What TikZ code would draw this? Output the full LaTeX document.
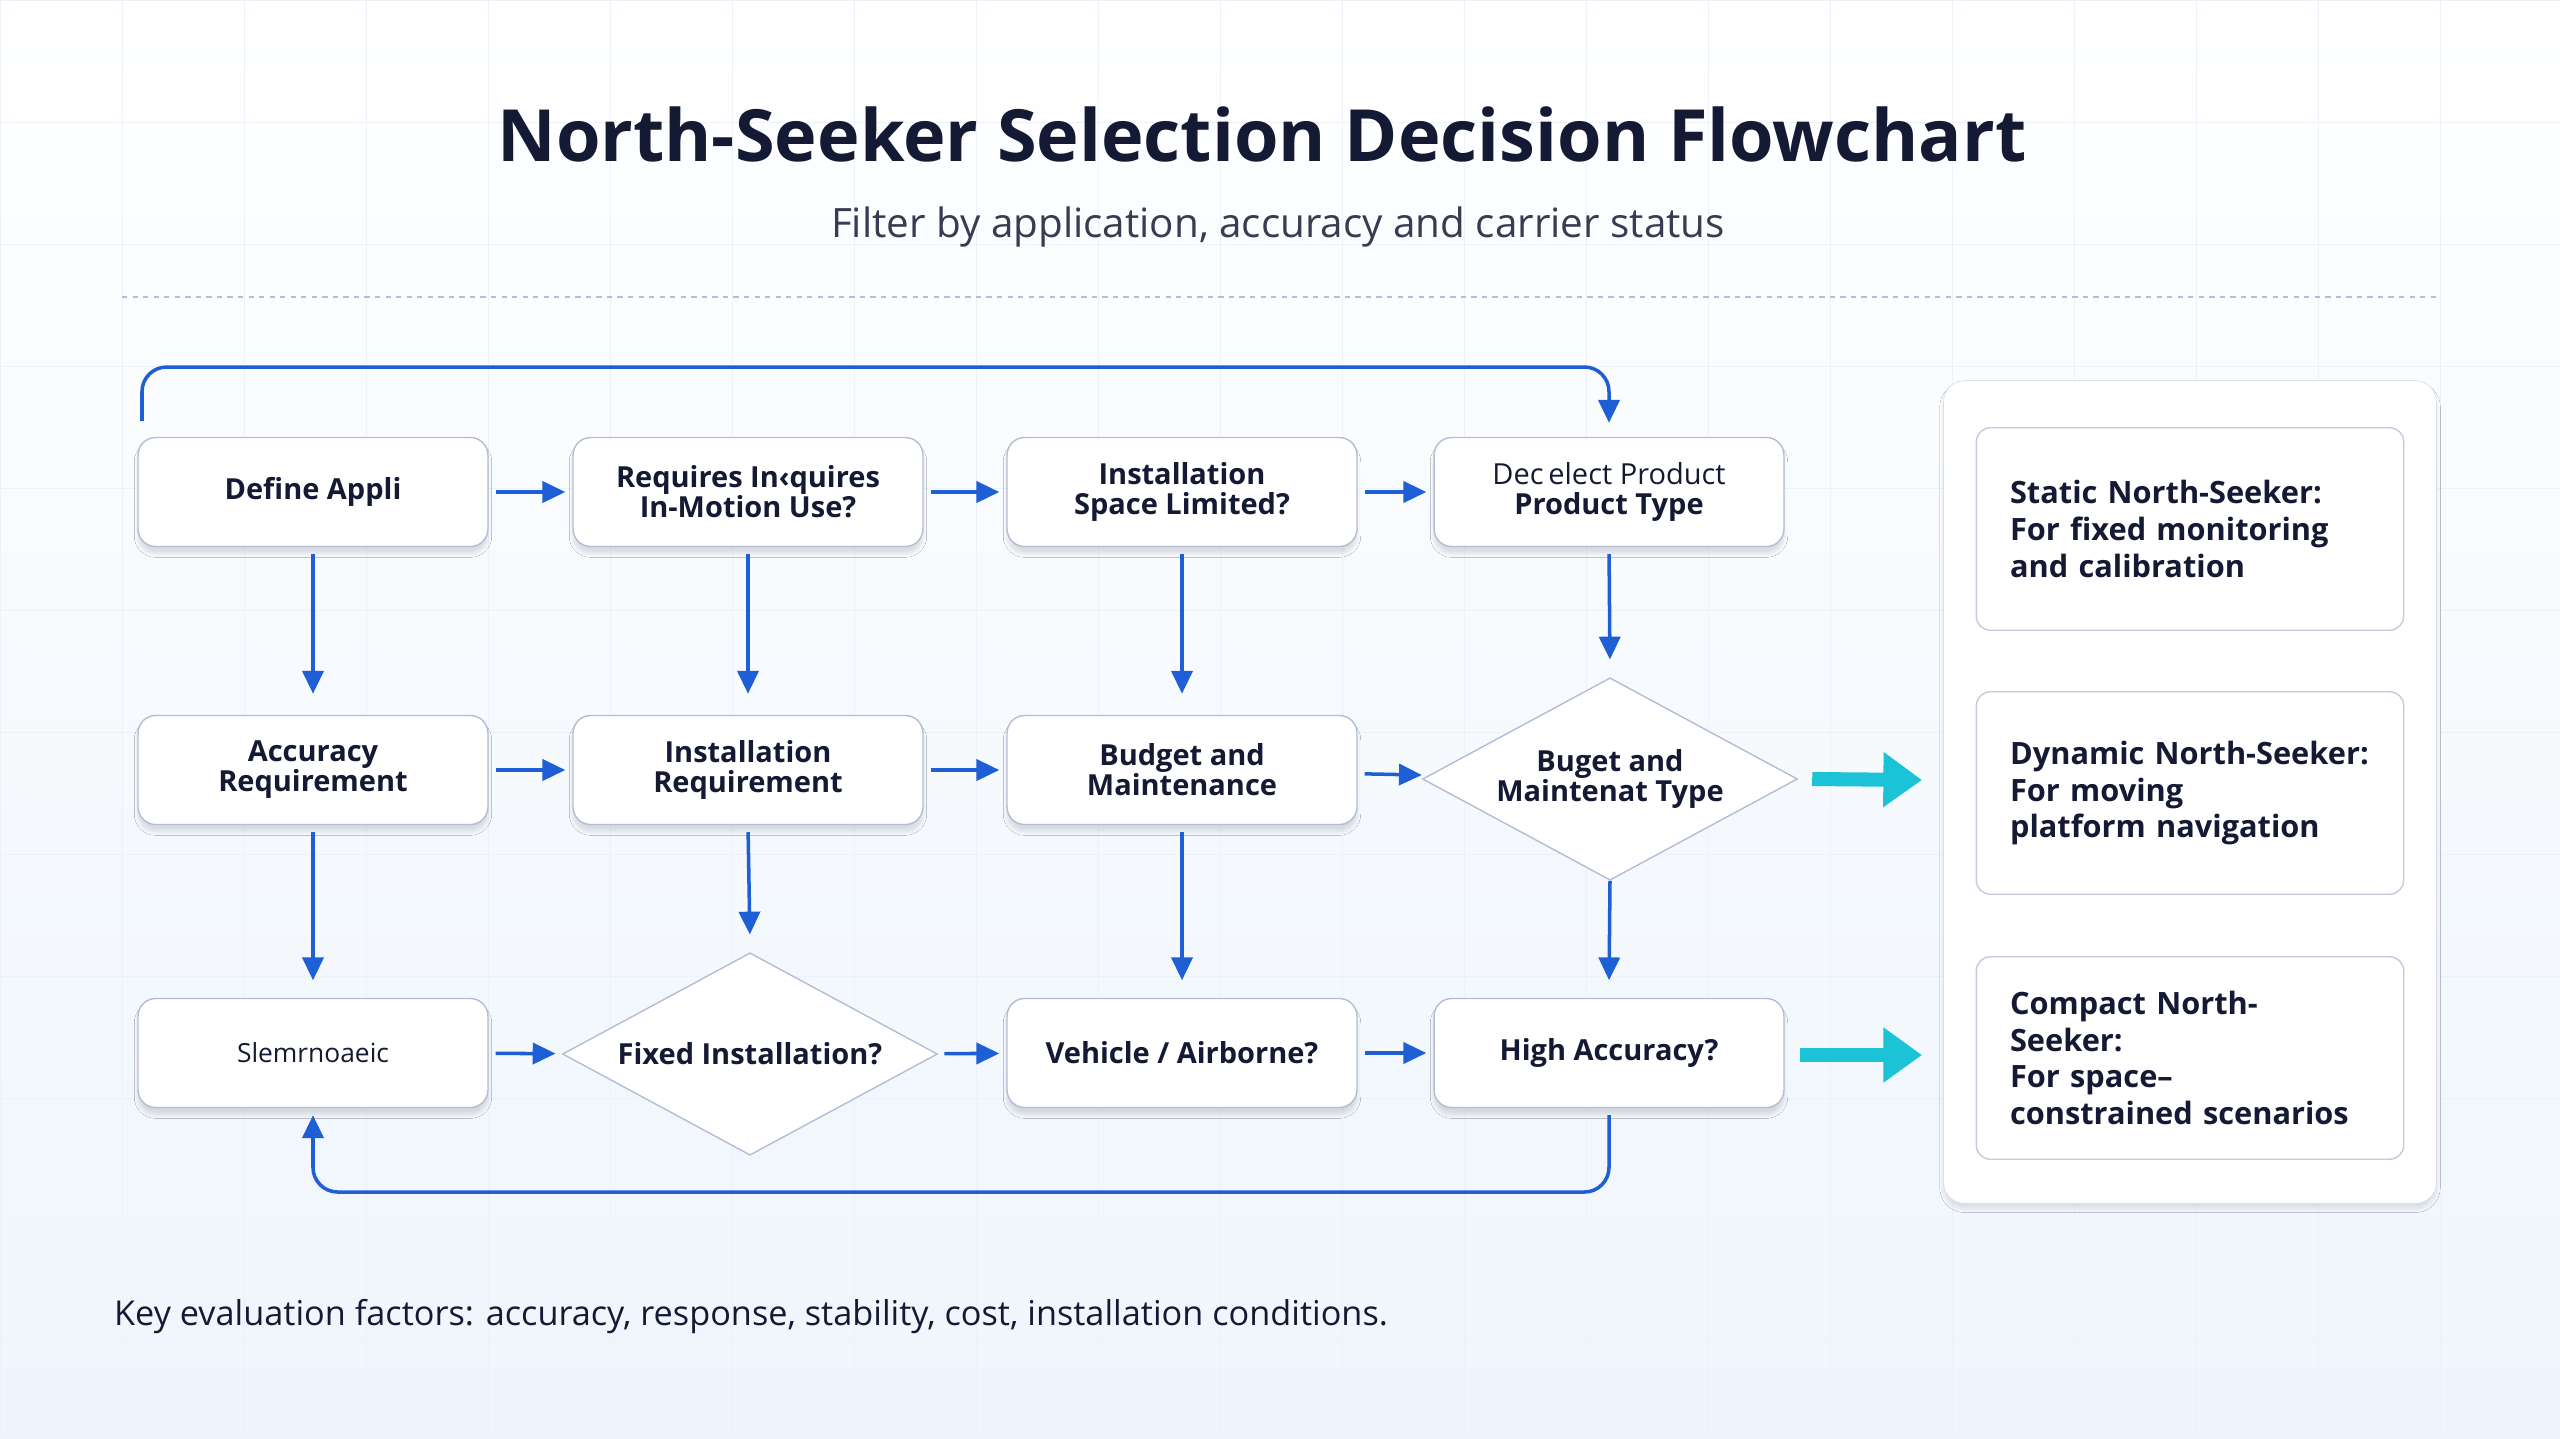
\documentclass[tikz,border=0pt]{standalone}
\usepackage{fontspec}
\setmainfont{Open Sans}
\usetikzlibrary{arrows.meta,positioning,shapes.geometric,shadows.blur}
\definecolor{flowblue}{HTML}{1F5FD6}
\definecolor{boxline}{HTML}{B4BDD6}
\definecolor{inkdark}{HTML}{141A33}
\definecolor{tealarrow}{HTML}{1CC2D6}
\definecolor{gridline}{HTML}{EDF2F8}
\definecolor{bgbottom}{HTML}{EEF5FC}
\tikzset{
	stepbox/.style={draw=boxline, thick, fill=white, rounded corners=10pt,
			minimum width=7cm, minimum height=2.18cm, align=center, text=inkdark,
			font=\fontsize{16.5}{19}\selectfont\bfseries,
			blur shadow={shadow blur steps=6, shadow xshift=0pt, shadow yshift=-4pt, shadow opacity=12}},
	choice/.style={draw=boxline, thick, fill=white, diamond, aspect=1.85, inner sep=1pt,
			minimum width=7.5cm, minimum height=4.05cm, align=center, text=inkdark,
			font=\fontsize{16.5}{19}\selectfont\bfseries},
	card/.style={draw=boxline!80, thick, fill=white, rounded corners=8pt,
			minimum width=8.55cm, minimum height=4.05cm, text width=7.2cm, align=left,
			text=inkdark, font=\fontsize{17.5}{21}\selectfont\bfseries},
	flow/.style={-{Triangle[length=13pt,width=12pt]}, flowblue, line width=2pt, shorten <=4pt, shorten >=4pt},
	outflow/.style={-{Triangle[length=22pt,width=30pt]}, tealarrow, line width=8pt}
}
\begin{document}
\begin{tikzpicture}[x=0.02cm, y=-0.02cm]
	\useasboundingbox (0,0) rectangle (2560,1438);
	\fill[top color=white, bottom color=bgbottom] (0,0) rectangle (2560,1438);
	% faint grid
	\foreach \gx in {0,122,...,2560} \draw[gridline] (\gx,0) -- (\gx,1438);
	\foreach \gy in {0,122,...,1438} \draw[gridline] (0,\gy) -- (2560,\gy);

	\node[text=inkdark, font=\fontsize{41}{48}\selectfont\bfseries] (title) at (1262,134) {North-Seeker Selection Decision Flowchart};
	\node[text=inkdark!85, font=\fontsize{23}{27}\selectfont] (subtitle) at (1278,227) {Filter by application, accuracy and carrier status};
	\draw[boxline, dashed, thick] (122,297) -- (2436,297);

	% row 1
	\node[stepbox] (define) at (313,492) {Define Appli};
	\node[stepbox] (motion) at (748,492) {Requires In‹quires\\[-2pt]In-Motion Use?};
	\node[stepbox] (space) at (1182,492) {Installation\\[-2pt]Space Limited?};
	\node[stepbox] (product) at (1609,492) {{\mdseries Dec\,elect Product}\\[-2pt]Product Type};
	% row 2
	\node[stepbox] (accuracy) at (313,770) {Accuracy\\[-2pt]Requirement};
	\node[stepbox] (install) at (748,770) {Installation\\[-2pt]Requirement};
	\node[stepbox] (budget) at (1182,770) {Budget and\\[-2pt]Maintenance};
	\node[choice] (buget) at (1610,779) {Buget and\\[-2pt]Maintenat Type};
	% row 3
	\node[stepbox, font=\fontsize{15}{18}\selectfont] (slem) at (313,1053) {Slemrnoaeic};
	\node[choice] (fixed) at (750,1054) {Fixed Installation?};
	\node[stepbox] (vehicle) at (1182,1053) {Vehicle / Airborne?};
	\node[stepbox] (high) at (1609,1053) {High Accuracy?};

	% horizontal links
	\draw[flow] (define) -- (motion);
	\draw[flow] (motion) -- (space);
	\draw[flow] (space) -- (product);
	\draw[flow] (accuracy) -- (install);
	\draw[flow] (install) -- (budget);
	\draw[flow] (budget) -- (buget);
	\draw[flow] (slem) -- (fixed);
	\draw[flow] (fixed) -- (vehicle);
	\draw[flow] (vehicle) -- (high);
	% vertical links
	\draw[flow] (define.south) -- ([yshift=8pt]accuracy.north);
	\draw[flow] (motion.south) -- ([yshift=8pt]install.north);
	\draw[flow] (space.south) -- ([yshift=8pt]budget.north);
	\draw[flow] (product.south) -- ([yshift=6pt]buget.north);
	\draw[flow] (accuracy.south) -- ([yshift=6pt]slem.north);
	\draw[flow] (install.south) -- ([yshift=6pt]fixed.north);
	\draw[flow] (budget.south) -- ([yshift=6pt]vehicle.north);
	\draw[flow, shorten <=0pt] (buget.south) -- ([yshift=6pt]high.north);

	% loops
	\coordinate (loopstart) at (142,421);
	\draw[flow, rounded corners=14pt, shorten <=0pt] (loopstart) |- (1609,367) -- ([yshift=4pt]product.north);
	\draw[flow, rounded corners=14pt] (high.south) |- (313,1192) -- (slem.south);

	% result panel
	\node[draw=boxline!50, fill=white, rounded corners=12pt, minimum width=9.86cm, minimum height=16.46cm,
		blur shadow={shadow blur steps=8, shadow xshift=0pt, shadow yshift=-3pt, shadow opacity=10}] (panel) at (2190,792) {};
	\node[card] (static) at (2190,529) {Static North-Seeker:\\For fixed monitoring\\and calibration};
	\node[card] (dynamic) at (2190,793) {Dynamic North-Seeker:\\For moving\\platform navigation};
	\node[card] (compact) at (2190,1058) {Compact North-Seeker:\\For space–\\constrained scenarios};

	\coordinate (out1) at (1922,780);
	\coordinate (out2) at (1922,1055);
	\draw[outflow] ([xshift=8]buget.east) -- (out1);
	\draw[outflow] (1800,1055) -- (out2);

	\node[anchor=west, text=inkdark, font=\fontsize{19.5}{23}\selectfont] (footer) at (108,1316) {Key evaluation factors: accuracy, response, stability, cost, installation conditions.};
\end{tikzpicture}
\end{document}
